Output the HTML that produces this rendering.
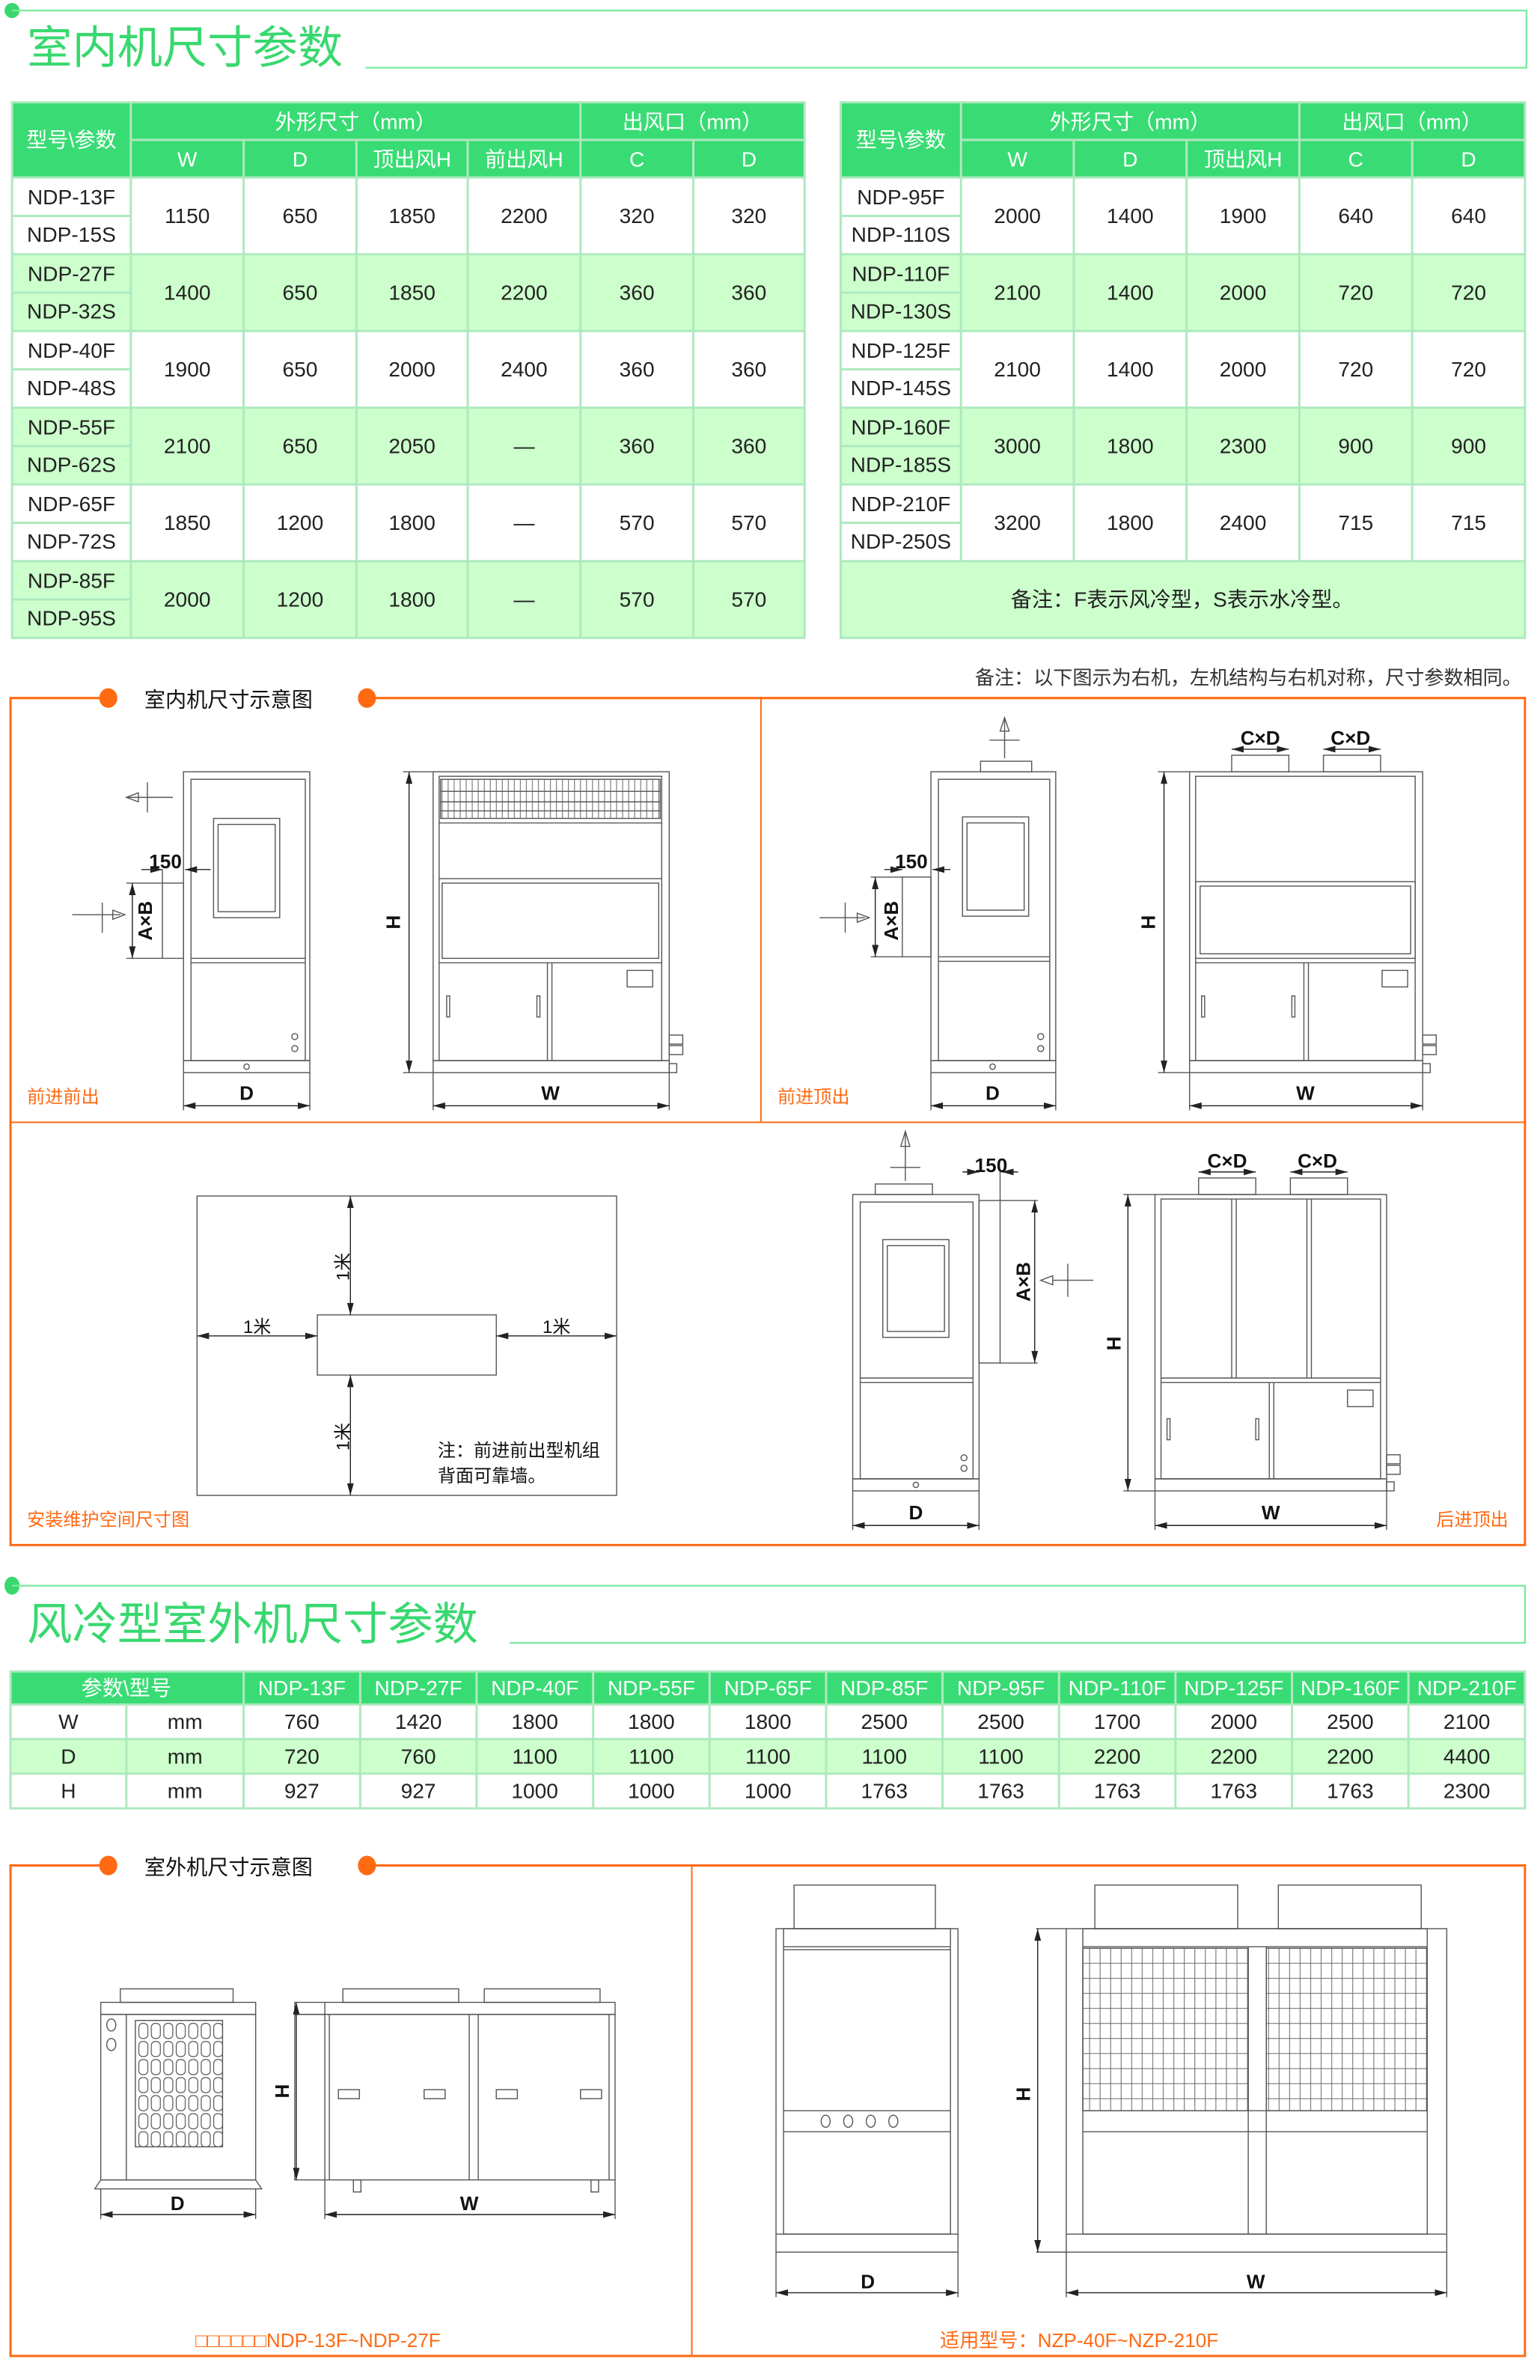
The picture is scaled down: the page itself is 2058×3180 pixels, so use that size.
<!DOCTYPE html>
<html><head><meta charset="utf-8"><style>
html,body{margin:0;padding:0;background:#fff;}
svg{display:block;}
text{font-family:"Liberation Sans","Noto Sans CJK SC",sans-serif;}
.t{font-size:14px;fill:#222;text-anchor:middle;dominant-baseline:central;}
.h{font-size:14px;fill:#fff;text-anchor:middle;dominant-baseline:central;}
.d{stroke:#555;stroke-width:0.7;fill:none;}
.g{stroke:#aee9bf;stroke-width:1.5;}
.o{font-size:12px;fill:#ff6a13;}
.lb{font-size:13px;fill:#111;text-anchor:middle;font-weight:bold;}
</style></head><body>
<svg width="2058" height="3180" viewBox="0 0 1024 1582" preserveAspectRatio="none" xmlns="http://www.w3.org/2000/svg">
<defs>
<marker id="ar" markerWidth="8" markerHeight="6" refX="8" refY="3" orient="auto-start-reverse" markerUnits="userSpaceOnUse"><path d="M0,0.8 L8,3 L0,5.2z" fill="#222"/></marker>
<pattern id="vg" width="4" height="40" patternUnits="userSpaceOnUse"><line x1="2" y1="0" x2="2" y2="40" stroke="#666" stroke-width="0.5"/></pattern>
<pattern id="mesh" width="7" height="10" patternUnits="userSpaceOnUse"><path d="M3.5,0V10M0,5H7" stroke="#666" stroke-width="0.5" fill="none"/></pattern>
<pattern id="slot" width="8.3" height="12" patternUnits="userSpaceOnUse"><rect x="1" y="1" width="6" height="10" rx="2.5" fill="none" stroke="#555" stroke-width="0.6"/></pattern>
</defs>

<!-- Section 1 header -->
<circle cx="8" cy="7" r="5" fill="#38d86f"/>
<polyline points="8,7 1015,7 1015,45 243,45" fill="none" stroke="#7deaa0" stroke-width="1.2"/>
<text x="18" y="42" font-size="30" fill="#38d86f">室内机尺寸参数</text>

<!-- Left table -->
<rect x="8" y="68" width="527" height="50" fill="#39dc74"/>
<rect x="8" y="118" width="527" height="51" fill="#fff"/>
<rect x="8" y="169" width="527" height="51" fill="#ccffcc"/>
<rect x="8" y="220" width="527" height="51" fill="#fff"/>
<rect x="8" y="271" width="527" height="51" fill="#ccffcc"/>
<rect x="8" y="322" width="527" height="51" fill="#fff"/>
<rect x="8" y="373" width="527" height="51" fill="#ccffcc"/>
<g class="g">
<rect x="8" y="68" width="527" height="356" fill="none"/>
<line x1="87" y1="93" x2="535" y2="93"/>
<line x1="8" y1="118" x2="535" y2="118"/><line x1="8" y1="169" x2="535" y2="169"/><line x1="8" y1="220" x2="535" y2="220"/><line x1="8" y1="271" x2="535" y2="271"/><line x1="8" y1="322" x2="535" y2="322"/><line x1="8" y1="373" x2="535" y2="373"/>
<line x1="8" y1="143.5" x2="87" y2="143.5"/><line x1="8" y1="194.5" x2="87" y2="194.5"/><line x1="8" y1="245.5" x2="87" y2="245.5"/><line x1="8" y1="296.5" x2="87" y2="296.5"/><line x1="8" y1="347.5" x2="87" y2="347.5"/><line x1="8" y1="398.5" x2="87" y2="398.5"/>
<line x1="87" y1="68" x2="87" y2="424"/><line x1="386" y1="68" x2="386" y2="424"/>
<line x1="162" y1="93" x2="162" y2="424"/><line x1="237" y1="93" x2="237" y2="424"/><line x1="311" y1="93" x2="311" y2="424"/><line x1="461" y1="93" x2="461" y2="424"/>
</g>
<text class="h" x="47.5" y="93">型号\参数</text>
<text class="h" x="236.5" y="81">外形尺寸（mm）</text>
<text class="h" x="460.5" y="81">出风口（mm）</text>
<text class="h" x="124.5" y="106">W</text><text class="h" x="199.5" y="106">D</text><text class="h" x="274" y="106">顶出风H</text><text class="h" x="348.5" y="106">前出风H</text><text class="h" x="423.5" y="106">C</text><text class="h" x="498" y="106">D</text>
<g class="t">
<text class="t" x="47.5" y="131">NDP-13F</text><text class="t" x="47.5" y="156">NDP-15S</text>
<text class="t" x="47.5" y="182">NDP-27F</text><text class="t" x="47.5" y="207">NDP-32S</text>
<text class="t" x="47.5" y="233">NDP-40F</text><text class="t" x="47.5" y="258">NDP-48S</text>
<text class="t" x="47.5" y="284">NDP-55F</text><text class="t" x="47.5" y="309">NDP-62S</text>
<text class="t" x="47.5" y="335">NDP-65F</text><text class="t" x="47.5" y="360">NDP-72S</text>
<text class="t" x="47.5" y="386">NDP-85F</text><text class="t" x="47.5" y="411">NDP-95S</text>
<text class="t" x="124.5" y="143.5">1150</text><text class="t" x="199.5" y="143.5">650</text><text class="t" x="274" y="143.5">1850</text><text class="t" x="348.5" y="143.5">2200</text><text class="t" x="423.5" y="143.5">320</text><text class="t" x="498" y="143.5">320</text>
<text class="t" x="124.5" y="194.5">1400</text><text class="t" x="199.5" y="194.5">650</text><text class="t" x="274" y="194.5">1850</text><text class="t" x="348.5" y="194.5">2200</text><text class="t" x="423.5" y="194.5">360</text><text class="t" x="498" y="194.5">360</text>
<text class="t" x="124.5" y="245.5">1900</text><text class="t" x="199.5" y="245.5">650</text><text class="t" x="274" y="245.5">2000</text><text class="t" x="348.5" y="245.5">2400</text><text class="t" x="423.5" y="245.5">360</text><text class="t" x="498" y="245.5">360</text>
<text class="t" x="124.5" y="296.5">2100</text><text class="t" x="199.5" y="296.5">650</text><text class="t" x="274" y="296.5">2050</text><text class="t" x="348.5" y="296.5">—</text><text class="t" x="423.5" y="296.5">360</text><text class="t" x="498" y="296.5">360</text>
<text class="t" x="124.5" y="347.5">1850</text><text class="t" x="199.5" y="347.5">1200</text><text class="t" x="274" y="347.5">1800</text><text class="t" x="348.5" y="347.5">—</text><text class="t" x="423.5" y="347.5">570</text><text class="t" x="498" y="347.5">570</text>
<text class="t" x="124.5" y="398.5">2000</text><text class="t" x="199.5" y="398.5">1200</text><text class="t" x="274" y="398.5">1800</text><text class="t" x="348.5" y="398.5">—</text><text class="t" x="423.5" y="398.5">570</text><text class="t" x="498" y="398.5">570</text>
</g>

<!-- Right table -->
<rect x="559" y="68" width="455" height="50" fill="#39dc74"/>
<rect x="559" y="118" width="455" height="51" fill="#fff"/>
<rect x="559" y="169" width="455" height="51" fill="#ccffcc"/>
<rect x="559" y="220" width="455" height="51" fill="#fff"/>
<rect x="559" y="271" width="455" height="51" fill="#ccffcc"/>
<rect x="559" y="322" width="455" height="51" fill="#fff"/>
<rect x="559" y="373" width="455" height="51" fill="#ccffcc"/>
<g class="g">
<rect x="559" y="68" width="455" height="356" fill="none"/>
<line x1="639" y1="93" x2="1014" y2="93"/>
<line x1="559" y1="118" x2="1014" y2="118"/><line x1="559" y1="169" x2="1014" y2="169"/><line x1="559" y1="220" x2="1014" y2="220"/><line x1="559" y1="271" x2="1014" y2="271"/><line x1="559" y1="322" x2="1014" y2="322"/><line x1="559" y1="373" x2="1014" y2="373"/>
<line x1="559" y1="143.5" x2="639" y2="143.5"/><line x1="559" y1="194.5" x2="639" y2="194.5"/><line x1="559" y1="245.5" x2="639" y2="245.5"/><line x1="559" y1="296.5" x2="639" y2="296.5"/><line x1="559" y1="347.5" x2="639" y2="347.5"/>
<line x1="639" y1="68" x2="639" y2="373"/><line x1="864" y1="68" x2="864" y2="373"/>
<line x1="714" y1="93" x2="714" y2="373"/><line x1="789" y1="93" x2="789" y2="373"/><line x1="939" y1="93" x2="939" y2="373"/>
</g>
<text class="h" x="599" y="93">型号\参数</text>
<text class="h" x="751.5" y="81">外形尺寸（mm）</text>
<text class="h" x="939" y="81">出风口（mm）</text>
<text class="h" x="676.5" y="106">W</text><text class="h" x="751.5" y="106">D</text><text class="h" x="826.5" y="106">顶出风H</text><text class="h" x="901.5" y="106">C</text><text class="h" x="976.5" y="106">D</text>
<text class="t" x="599" y="131">NDP-95F</text><text class="t" x="599" y="156">NDP-110S</text>
<text class="t" x="599" y="182">NDP-110F</text><text class="t" x="599" y="207">NDP-130S</text>
<text class="t" x="599" y="233">NDP-125F</text><text class="t" x="599" y="258">NDP-145S</text>
<text class="t" x="599" y="284">NDP-160F</text><text class="t" x="599" y="309">NDP-185S</text>
<text class="t" x="599" y="335">NDP-210F</text><text class="t" x="599" y="360">NDP-250S</text>
<text class="t" x="676.5" y="143.5">2000</text><text class="t" x="751.5" y="143.5">1400</text><text class="t" x="826.5" y="143.5">1900</text><text class="t" x="901.5" y="143.5">640</text><text class="t" x="976.5" y="143.5">640</text>
<text class="t" x="676.5" y="194.5">2100</text><text class="t" x="751.5" y="194.5">1400</text><text class="t" x="826.5" y="194.5">2000</text><text class="t" x="901.5" y="194.5">720</text><text class="t" x="976.5" y="194.5">720</text>
<text class="t" x="676.5" y="245.5">2100</text><text class="t" x="751.5" y="245.5">1400</text><text class="t" x="826.5" y="245.5">2000</text><text class="t" x="901.5" y="245.5">720</text><text class="t" x="976.5" y="245.5">720</text>
<text class="t" x="676.5" y="296.5">3000</text><text class="t" x="751.5" y="296.5">1800</text><text class="t" x="826.5" y="296.5">2300</text><text class="t" x="901.5" y="296.5">900</text><text class="t" x="976.5" y="296.5">900</text>
<text class="t" x="676.5" y="347.5">3200</text><text class="t" x="751.5" y="347.5">1800</text><text class="t" x="826.5" y="347.5">2400</text><text class="t" x="901.5" y="347.5">715</text><text class="t" x="976.5" y="347.5">715</text>
<text class="t" x="786" y="398.5" font-size="15">备注：F表示风冷型，S表示水冷型。</text>

<text x="1012" y="455" font-size="13" fill="#333" text-anchor="end">备注：以下图示为右机，左机结构与右机对称，尺寸参数相同。</text>

<!-- Orange box 1 -->
<g stroke="#ff6a13" stroke-width="1.5" fill="none">
<polyline points="72,464 7,464 7,1027 1014,1027 1014,464 244,464"/>
<line x1="506" y1="464" x2="506" y2="746" stroke-width="1"/>
<line x1="7" y1="746" x2="1014" y2="746" stroke-width="1"/>
</g>
<ellipse cx="72" cy="464" rx="6" ry="6.5" fill="#ff6a13"/><ellipse cx="244" cy="464" rx="6" ry="6.5" fill="#ff6a13"/>
<text x="96" y="470" font-size="14" fill="#111">室内机尺寸示意图</text>
<text class="o" x="18" y="733">前进前出</text>
<text class="o" x="517" y="733">前进顶出</text>
<text class="o" x="18" y="1014">安装维护空间尺寸图</text>
<text class="o" x="1003" y="1014" text-anchor="end">后进顶出</text>

<!-- Drawing 1 side -->
<g class="d">
<rect x="122" y="513" width="84" height="192"/><rect x="127" y="518" width="76" height="187"/>
<rect x="122" y="705" width="84" height="8"/><circle cx="164" cy="709" r="1.8"/>
<rect x="142" y="544" width="44" height="66"/><rect x="145" y="548" width="38" height="58"/>
<line x1="127" y1="637" x2="203" y2="637"/><line x1="127" y1="640" x2="203" y2="640"/>
<circle cx="196" cy="689" r="2"/><circle cx="196" cy="697" r="2"/>
<rect x="108" y="587" width="14" height="50"/>
<line x1="122" y1="713" x2="122" y2="738"/><line x1="206" y1="713" x2="206" y2="738"/>
<line x1="84" y1="587" x2="108" y2="587"/><line x1="84" y1="637" x2="108" y2="637"/>
<line x1="108" y1="578" x2="108" y2="587"/>
<line x1="68" y1="600" x2="68" y2="620"/><line x1="48" y1="608" x2="80" y2="608"/><path d="M75,605 L83,608 L75,611z"/>
<line x1="98" y1="520" x2="98" y2="540"/><line x1="84" y1="530" x2="115" y2="530"/><path d="M92,527 L84,530 L92,533z"/>
</g>
<g stroke="#222" stroke-width="0.7">
<line x1="88" y1="587" x2="88" y2="637" marker-start="url(#ar)" marker-end="url(#ar)"/>
<line x1="122" y1="735" x2="206" y2="735" marker-start="url(#ar)" marker-end="url(#ar)"/>
<line x1="94" y1="578" x2="108" y2="578" marker-end="url(#ar)"/><line x1="140" y1="578" x2="123" y2="578" marker-end="url(#ar)"/>
</g>
<text class="lb" x="110" y="577">150</text>
<text class="lb" transform="translate(101,612) rotate(-90)">A×B</text>
<text class="lb" x="164" y="731">D</text>

<!-- Drawing 1 front -->
<g class="d">
<rect x="288" y="513" width="157" height="192"/><rect x="292" y="516" width="148" height="189"/>
<rect x="288" y="705" width="157" height="8"/>
<rect x="293" y="518" width="146" height="26" fill="url(#vg)"/>
<line x1="293" y1="526" x2="439" y2="526"/><line x1="293" y1="533" x2="439" y2="533"/><line x1="293" y1="539" x2="439" y2="539"/>
<line x1="292" y1="547" x2="440" y2="547"/><line x1="292" y1="584" x2="440" y2="584"/>
<rect x="294" y="587" width="144" height="50"/>
<line x1="292" y1="640" x2="440" y2="640"/><line x1="364" y1="640" x2="364" y2="705"/><line x1="367" y1="640" x2="367" y2="705"/>
<rect x="417" y="645" width="17" height="11"/>
<rect x="297" y="662" width="2" height="14"/><rect x="357" y="662" width="2" height="14"/>
<rect x="445" y="688" width="9" height="6"/><rect x="445" y="695" width="9" height="6"/><rect x="445" y="707" width="5" height="6"/>
<line x1="268" y1="513" x2="288" y2="513"/><line x1="268" y1="713" x2="288" y2="713"/>
<line x1="288" y1="713" x2="288" y2="738"/><line x1="445" y1="713" x2="445" y2="738"/>
</g>
<g stroke="#222" stroke-width="0.7">
<line x1="272" y1="513" x2="272" y2="713" marker-start="url(#ar)" marker-end="url(#ar)"/>
<line x1="288" y1="735" x2="445" y2="735" marker-start="url(#ar)" marker-end="url(#ar)"/>
</g>
<text class="lb" transform="translate(266,613) rotate(-90)">H</text>
<text class="lb" x="366" y="731">W</text>

<!-- Drawing 2 side -->
<g class="d">
<rect x="619" y="513" width="83" height="192"/><rect x="624" y="518" width="74" height="187"/>
<rect x="619" y="705" width="83" height="8"/><circle cx="660" cy="709" r="1.8"/>
<rect x="652" y="506" width="34" height="7"/>
<rect x="640" y="543" width="44" height="66"/><rect x="643" y="547" width="38" height="58"/>
<line x1="624" y1="636" x2="698" y2="636"/><line x1="624" y1="639" x2="698" y2="639"/>
<circle cx="692" cy="689" r="2"/><circle cx="692" cy="697" r="2"/>
<rect x="600" y="583" width="19" height="53"/>
<line x1="619" y1="713" x2="619" y2="738"/><line x1="702" y1="713" x2="702" y2="738"/>
<line x1="579" y1="583" x2="600" y2="583"/><line x1="579" y1="636" x2="600" y2="636"/>
<line x1="668" y1="478" x2="668" y2="504"/><path d="M665,486 L668,477 L671,486z"/><line x1="658" y1="492" x2="678" y2="492"/>
<line x1="562" y1="600" x2="562" y2="620"/><line x1="545" y1="610" x2="575" y2="610"/><path d="M570,607 L578,610 L570,613z"/>
</g>
<g stroke="#222" stroke-width="0.7">
<line x1="582" y1="583" x2="582" y2="636" marker-start="url(#ar)" marker-end="url(#ar)"/>
<line x1="619" y1="735" x2="702" y2="735" marker-start="url(#ar)" marker-end="url(#ar)"/>
<line x1="588" y1="578" x2="600" y2="578" marker-end="url(#ar)"/><line x1="632" y1="578" x2="620" y2="578" marker-end="url(#ar)"/>
</g>
<text class="lb" x="606" y="577">150</text>
<text class="lb" transform="translate(597,612) rotate(-90)">A×B</text>
<text class="lb" x="660" y="731">D</text>

<!-- Drawing 2 front -->
<g class="d">
<rect x="791" y="513" width="155" height="192"/><rect x="795" y="516" width="146" height="189"/>
<rect x="791" y="705" width="155" height="8"/>
<rect x="819" y="502" width="38" height="11"/><rect x="880" y="502" width="38" height="11"/>
<rect x="795" y="586" width="146" height="51"/><rect x="798" y="589" width="140" height="45"/>
<line x1="795" y1="640" x2="941" y2="640"/><line x1="867" y1="640" x2="867" y2="705"/><line x1="870" y1="640" x2="870" y2="705"/>
<rect x="919" y="645" width="17" height="11"/>
<rect x="799" y="662" width="2" height="14"/><rect x="859" y="662" width="2" height="14"/>
<rect x="946" y="688" width="9" height="6"/><rect x="946" y="695" width="9" height="6"/><rect x="946" y="707" width="5" height="6"/>
<line x1="770" y1="513" x2="791" y2="513"/><line x1="770" y1="713" x2="791" y2="713"/>
<line x1="791" y1="713" x2="791" y2="738"/><line x1="946" y1="713" x2="946" y2="738"/>
</g>
<g stroke="#222" stroke-width="0.7">
<line x1="774" y1="513" x2="774" y2="713" marker-start="url(#ar)" marker-end="url(#ar)"/>
<line x1="791" y1="735" x2="946" y2="735" marker-start="url(#ar)" marker-end="url(#ar)"/>
<line x1="819" y1="498" x2="857" y2="498" marker-start="url(#ar)" marker-end="url(#ar)"/>
<line x1="880" y1="498" x2="918" y2="498" marker-start="url(#ar)" marker-end="url(#ar)"/>
</g>
<text class="lb" x="838" y="495">C×D</text><text class="lb" x="898" y="495">C×D</text>
<text class="lb" transform="translate(768,613) rotate(-90)">H</text>
<text class="lb" x="868" y="731">W</text>

<!-- Space diagram -->
<g class="d" stroke="#333">
<rect x="131" y="795" width="279" height="199"/>
<rect x="211" y="874" width="119" height="40"/>
</g>
<g stroke="#222" stroke-width="0.7">
<line x1="233" y1="795" x2="233" y2="874" marker-start="url(#ar)" marker-end="url(#ar)"/>
<line x1="233" y1="914" x2="233" y2="994" marker-start="url(#ar)" marker-end="url(#ar)"/>
<line x1="131" y1="888" x2="211" y2="888" marker-start="url(#ar)" marker-end="url(#ar)"/>
<line x1="330" y1="888" x2="410" y2="888" marker-start="url(#ar)" marker-end="url(#ar)"/>
</g>
<text font-size="12" fill="#111" transform="translate(232,842) rotate(-90)" text-anchor="middle">1米</text>
<text font-size="12" fill="#111" transform="translate(232,955) rotate(-90)" text-anchor="middle">1米</text>
<text font-size="12" fill="#111" x="171" y="886" text-anchor="middle">1米</text>
<text font-size="12" fill="#111" x="370" y="886" text-anchor="middle">1米</text>
<text font-size="12" fill="#111" x="291" y="968">注：前进前出型机组</text>
<text font-size="12" fill="#111" x="291" y="985">背面可靠墙。</text>

<!-- Drawing 3 side -->
<g class="d">
<rect x="567" y="794" width="84" height="189"/><rect x="572" y="799" width="75" height="184"/>
<rect x="567" y="983" width="84" height="8"/><circle cx="609" cy="987" r="1.8"/>
<rect x="582" y="787" width="38" height="7"/>
<rect x="587" y="824" width="44" height="65"/><rect x="590" y="828" width="38" height="57"/>
<line x1="572" y1="916" x2="647" y2="916"/><line x1="572" y1="919" x2="647" y2="919"/>
<circle cx="641" cy="969" r="2"/><circle cx="641" cy="976" r="2"/>
<rect x="651" y="798" width="14" height="108"/>
<line x1="665" y1="798" x2="690" y2="798"/><line x1="665" y1="906" x2="690" y2="906"/><line x1="665" y1="779" x2="665" y2="798"/>
<line x1="567" y1="991" x2="567" y2="1017"/><line x1="651" y1="991" x2="651" y2="1017"/>
<line x1="602" y1="752" x2="602" y2="785"/><path d="M599,762 L602,752 L605,762z"/><line x1="592" y1="776" x2="612" y2="776"/>
<line x1="710" y1="840" x2="710" y2="862"/><line x1="700" y1="851" x2="727" y2="851"/><path d="M700,848 L692,851 L700,854z"/>
</g>
<g stroke="#222" stroke-width="0.7">
<line x1="688" y1="798" x2="688" y2="906" marker-start="url(#ar)" marker-end="url(#ar)"/>
<line x1="567" y1="1014" x2="651" y2="1014" marker-start="url(#ar)" marker-end="url(#ar)"/>
<line x1="640" y1="779" x2="651" y2="779" marker-end="url(#ar)"/><line x1="677" y1="779" x2="666" y2="779" marker-end="url(#ar)"/>
</g>
<text class="lb" x="659" y="779">150</text>
<text class="lb" transform="translate(685,852) rotate(-90)">A×B</text>
<text class="lb" x="609" y="1010">D</text>

<!-- Drawing 3 front -->
<g class="d">
<rect x="768" y="794" width="154" height="189"/><rect x="772" y="797" width="146" height="186"/>
<rect x="768" y="983" width="154" height="8"/>
<rect x="797" y="783" width="38" height="11"/><rect x="858" y="783" width="38" height="11"/>
<line x1="819" y1="797" x2="819" y2="916"/><line x1="822" y1="797" x2="822" y2="916"/>
<line x1="869" y1="797" x2="869" y2="916"/><line x1="872" y1="797" x2="872" y2="916"/>
<line x1="772" y1="916" x2="918" y2="916"/><line x1="772" y1="919" x2="918" y2="919"/>
<line x1="844" y1="919" x2="844" y2="983"/><line x1="847" y1="919" x2="847" y2="983"/>
<rect x="896" y="924" width="17" height="11"/>
<rect x="776" y="943" width="2" height="14"/><rect x="835" y="943" width="2" height="14"/>
<rect x="922" y="967" width="9" height="6"/><rect x="922" y="974" width="9" height="6"/><rect x="922" y="985" width="5" height="6"/>
<line x1="747" y1="794" x2="768" y2="794"/><line x1="747" y1="991" x2="768" y2="991"/>
<line x1="768" y1="991" x2="768" y2="1017"/><line x1="922" y1="991" x2="922" y2="1017"/>
</g>
<g stroke="#222" stroke-width="0.7">
<line x1="750" y1="794" x2="750" y2="991" marker-start="url(#ar)" marker-end="url(#ar)"/>
<line x1="768" y1="1014" x2="922" y2="1014" marker-start="url(#ar)" marker-end="url(#ar)"/>
<line x1="797" y1="779" x2="835" y2="779" marker-start="url(#ar)" marker-end="url(#ar)"/>
<line x1="858" y1="779" x2="896" y2="779" marker-start="url(#ar)" marker-end="url(#ar)"/>
</g>
<text class="lb" x="816" y="776">C×D</text><text class="lb" x="876" y="776">C×D</text>
<text class="lb" transform="translate(745,893) rotate(-90)">H</text>
<text class="lb" x="845" y="1010">W</text>

<!-- Section 2 header -->
<ellipse cx="8" cy="1054" rx="5" ry="6" fill="#38d86f"/>
<polyline points="8,1054 1014,1054 1014,1092 339,1092" fill="none" stroke="#7deaa0" stroke-width="1.2"/>
<text x="18" y="1090" font-size="30" fill="#38d86f">风冷型室外机尺寸参数</text>

<!-- Outdoor table -->
<rect x="7" y="1111" width="1007" height="22" fill="#39dc74"/>
<rect x="7" y="1133" width="1007" height="23" fill="#fff"/>
<rect x="7" y="1156" width="1007" height="23" fill="#ccffcc"/>
<rect x="7" y="1179" width="1007" height="23" fill="#fff"/>
<g class="g">
<rect x="7" y="1111" width="1007" height="91" fill="none"/>
<line x1="7" y1="1133" x2="1014" y2="1133"/><line x1="7" y1="1156" x2="1014" y2="1156"/><line x1="7" y1="1179" x2="1014" y2="1179"/>
<line x1="84" y1="1133" x2="84" y2="1202"/>
<line x1="162" y1="1111" x2="162" y2="1202"/><line x1="239.5" y1="1111" x2="239.5" y2="1202"/><line x1="316.9" y1="1111" x2="316.9" y2="1202"/><line x1="394.4" y1="1111" x2="394.4" y2="1202"/><line x1="471.8" y1="1111" x2="471.8" y2="1202"/><line x1="549.3" y1="1111" x2="549.3" y2="1202"/><line x1="626.7" y1="1111" x2="626.7" y2="1202"/><line x1="704.2" y1="1111" x2="704.2" y2="1202"/><line x1="781.6" y1="1111" x2="781.6" y2="1202"/><line x1="859.1" y1="1111" x2="859.1" y2="1202"/><line x1="936.5" y1="1111" x2="936.5" y2="1202"/>
</g>
<text class="h" x="84" y="1122">参数\型号</text>
<text class="h" x="200.7" y="1122">NDP-13F</text><text class="h" x="278.2" y="1122">NDP-27F</text><text class="h" x="355.6" y="1122">NDP-40F</text><text class="h" x="433.1" y="1122">NDP-55F</text><text class="h" x="510.6" y="1122">NDP-65F</text><text class="h" x="588" y="1122">NDP-85F</text><text class="h" x="665.5" y="1122">NDP-95F</text><text class="h" x="742.9" y="1122">NDP-110F</text><text class="h" x="820.4" y="1122">NDP-125F</text><text class="h" x="897.8" y="1122">NDP-160F</text><text class="h" x="975.3" y="1122">NDP-210F</text>
<text class="t" x="45.5" y="1144.5">W</text><text class="t" x="123" y="1144.5">mm</text>
<text class="t" x="200.7" y="1144.5">760</text><text class="t" x="278.2" y="1144.5">1420</text><text class="t" x="355.6" y="1144.5">1800</text><text class="t" x="433.1" y="1144.5">1800</text><text class="t" x="510.6" y="1144.5">1800</text><text class="t" x="588" y="1144.5">2500</text><text class="t" x="665.5" y="1144.5">2500</text><text class="t" x="742.9" y="1144.5">1700</text><text class="t" x="820.4" y="1144.5">2000</text><text class="t" x="897.8" y="1144.5">2500</text><text class="t" x="975.3" y="1144.5">2100</text>
<text class="t" x="45.5" y="1167.5">D</text><text class="t" x="123" y="1167.5">mm</text>
<text class="t" x="200.7" y="1167.5">720</text><text class="t" x="278.2" y="1167.5">760</text><text class="t" x="355.6" y="1167.5">1100</text><text class="t" x="433.1" y="1167.5">1100</text><text class="t" x="510.6" y="1167.5">1100</text><text class="t" x="588" y="1167.5">1100</text><text class="t" x="665.5" y="1167.5">1100</text><text class="t" x="742.9" y="1167.5">2200</text><text class="t" x="820.4" y="1167.5">2200</text><text class="t" x="897.8" y="1167.5">2200</text><text class="t" x="975.3" y="1167.5">4400</text>
<text class="t" x="45.5" y="1190.5">H</text><text class="t" x="123" y="1190.5">mm</text>
<text class="t" x="200.7" y="1190.5">927</text><text class="t" x="278.2" y="1190.5">927</text><text class="t" x="355.6" y="1190.5">1000</text><text class="t" x="433.1" y="1190.5">1000</text><text class="t" x="510.6" y="1190.5">1000</text><text class="t" x="588" y="1190.5">1763</text><text class="t" x="665.5" y="1190.5">1763</text><text class="t" x="742.9" y="1190.5">1763</text><text class="t" x="820.4" y="1190.5">1763</text><text class="t" x="897.8" y="1190.5">1763</text><text class="t" x="975.3" y="1190.5">2300</text>

<!-- Orange box 2 -->
<g stroke="#ff6a13" stroke-width="1.5" fill="none">
<polyline points="72,1240 7,1240 7,1566 1014,1566 1014,1240 244,1240"/>
<line x1="460" y1="1240" x2="460" y2="1566" stroke-width="1"/>
</g>
<ellipse cx="72" cy="1240" rx="6" ry="6.5" fill="#ff6a13"/><ellipse cx="244" cy="1240" rx="6" ry="6.5" fill="#ff6a13"/>
<text x="96" y="1246" font-size="14" fill="#111">室外机尺寸示意图</text>
<text x="130" y="1560" font-size="13" fill="#ff6a13">□□□□□□NDP-13F~NDP-27F</text>
<text x="625" y="1560" font-size="13" fill="#ff6a13">适用型号：NZP-40F~NZP-210F</text>

<!-- Outdoor 1 side -->
<g class="d">
<rect x="80" y="1322" width="75" height="9"/>
<rect x="67" y="1331" width="103" height="8"/>
<rect x="67" y="1339" width="103" height="110"/>
<line x1="84" y1="1339" x2="84" y2="1449"/>
<rect x="90" y="1343" width="58" height="84" fill="url(#slot)"/>
<ellipse cx="74" cy="1346" rx="3" ry="4"/><ellipse cx="74" cy="1359" rx="3" ry="4"/>
<path d="M67,1449 L63,1455 L174,1455 L170,1449z"/>
<line x1="67" y1="1455" x2="67" y2="1475"/><line x1="170" y1="1455" x2="170" y2="1475"/>
</g>
<g stroke="#222" stroke-width="0.7"><line x1="67" y1="1472" x2="170" y2="1472" marker-start="url(#ar)" marker-end="url(#ar)"/></g>
<text class="lb" x="118" y="1469">D</text>

<!-- Outdoor 1 front -->
<g class="d">
<rect x="228" y="1322" width="77" height="9"/><rect x="322" y="1322" width="77" height="9"/>
<rect x="196" y="1331" width="213" height="8"/>
<rect x="196" y="1339" width="213" height="110"/>
<line x1="216" y1="1331" x2="216" y2="1449"/><line x1="219" y1="1339" x2="219" y2="1449"/>
<line x1="312" y1="1339" x2="312" y2="1449"/><line x1="318" y1="1339" x2="318" y2="1449"/>
<line x1="405" y1="1339" x2="405" y2="1449"/>
<rect x="225" y="1389" width="14" height="6"/><rect x="282" y="1389" width="14" height="6"/><rect x="330" y="1389" width="14" height="6"/><rect x="386" y="1389" width="14" height="6"/>
<rect x="235" y="1449" width="5" height="8"/><rect x="393" y="1449" width="5" height="8"/>
<line x1="216" y1="1449" x2="216" y2="1475"/><line x1="409" y1="1449" x2="409" y2="1475"/>
</g>
<g stroke="#222" stroke-width="0.7">
<line x1="197" y1="1331" x2="197" y2="1449" marker-start="url(#ar)" marker-end="url(#ar)"/>
<line x1="216" y1="1472" x2="409" y2="1472" marker-start="url(#ar)" marker-end="url(#ar)"/>
</g>
<text class="lb" transform="translate(192,1390) rotate(-90)">H</text>
<text class="lb" x="312" y="1469">W</text>

<!-- Outdoor 2 side -->
<g class="d">
<rect x="528" y="1253" width="94" height="29"/>
<rect x="516" y="1282" width="121" height="215"/>
<rect x="521" y="1282" width="111" height="203"/>
<line x1="521" y1="1294" x2="632" y2="1294"/><line x1="521" y1="1296" x2="632" y2="1296"/>
<line x1="521" y1="1403" x2="632" y2="1403"/><line x1="521" y1="1417" x2="632" y2="1417"/>
<ellipse cx="549" cy="1410" rx="3" ry="4"/><ellipse cx="564" cy="1410" rx="3" ry="4"/><ellipse cx="579" cy="1410" rx="3" ry="4"/><ellipse cx="594" cy="1410" rx="3" ry="4"/>
<line x1="516" y1="1485" x2="637" y2="1485"/>
<line x1="516" y1="1497" x2="516" y2="1527"/><line x1="637" y1="1497" x2="637" y2="1527"/>
</g>
<g stroke="#222" stroke-width="0.7"><line x1="516" y1="1524" x2="637" y2="1524" marker-start="url(#ar)" marker-end="url(#ar)"/></g>
<text class="lb" x="577" y="1521">D</text>

<!-- Outdoor 2 front -->
<g class="d">
<rect x="728" y="1253" width="95" height="29"/><rect x="850" y="1253" width="95" height="29"/>
<rect x="709" y="1282" width="253" height="215"/>
<rect x="720" y="1282" width="229" height="203"/>
<line x1="720" y1="1294" x2="949" y2="1294"/>
<rect x="720" y="1295" width="110" height="108" fill="url(#mesh)"/>
<rect x="842" y="1295" width="107" height="108" fill="url(#mesh)"/>
<line x1="830" y1="1294" x2="830" y2="1485"/><line x1="842" y1="1294" x2="842" y2="1485"/>
<line x1="720" y1="1403" x2="949" y2="1403"/><line x1="720" y1="1417" x2="949" y2="1417"/>
<line x1="709" y1="1485" x2="962" y2="1485"/>
<line x1="689" y1="1282" x2="709" y2="1282"/><line x1="689" y1="1497" x2="709" y2="1497"/>
<line x1="709" y1="1497" x2="709" y2="1527"/><line x1="962" y1="1497" x2="962" y2="1527"/>
</g>
<g stroke="#222" stroke-width="0.7">
<line x1="690" y1="1282" x2="690" y2="1497" marker-start="url(#ar)" marker-end="url(#ar)"/>
<line x1="709" y1="1524" x2="962" y2="1524" marker-start="url(#ar)" marker-end="url(#ar)"/>
</g>
<text class="lb" transform="translate(685,1392) rotate(-90)">H</text>
<text class="lb" x="835" y="1521">W</text>
</svg>
</body></html>
